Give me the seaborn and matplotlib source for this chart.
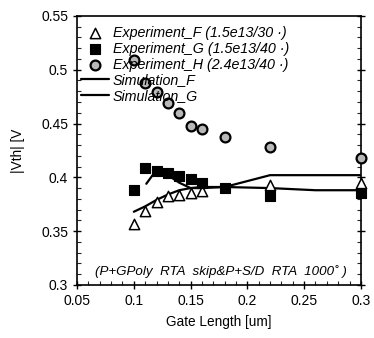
import numpy as np
import pandas as pd
import matplotlib
matplotlib.use("Agg")
import matplotlib.pyplot as plt
import seaborn as sns
from matplotlib.ticker import MultipleLocator

# ==========================================
# DATA
# ==========================================

exp_f_x = [0.10, 0.11, 0.12, 0.13, 0.14, 0.15, 0.16, 0.22, 0.30]
exp_f_y = [0.357, 0.369, 0.377, 0.383, 0.384, 0.385, 0.387, 0.393, 0.395]

exp_g_x = [0.10, 0.11, 0.12, 0.13, 0.14, 0.15, 0.16, 0.18, 0.22, 0.30]
exp_g_y = [0.388, 0.409, 0.406, 0.404, 0.401, 0.398, 0.395, 0.390, 0.383, 0.385]

exp_h_x = [0.10, 0.11, 0.12, 0.13, 0.14, 0.15, 0.16, 0.18, 0.22, 0.30]
exp_h_y = [0.509, 0.488, 0.479, 0.469, 0.460, 0.448, 0.445, 0.437, 0.428, 0.418]

sim_f_x = [0.10, 0.11, 0.12, 0.13, 0.14, 0.15, 0.16, 0.18, 0.22, 0.30]
sim_f_y = [0.368, 0.373, 0.379, 0.384, 0.388, 0.390, 0.391, 0.391, 0.402, 0.402]

sim_g_x = [0.111, 0.12, 0.13, 0.14, 0.15, 0.16, 0.18, 0.22, 0.26, 0.30]
sim_g_y = [0.394, 0.407, 0.402, 0.395, 0.390, 0.390, 0.391, 0.390, 0.388, 0.388]

labels = [
    "Experiment_F (1.5e13/30 \u00b7)",
    "Experiment_G (1.5e13/40 \u00b7)",
    "Experiment_H (2.4e13/40 \u00b7)",
    "Simulation_F",
    "Simulation_G",
]

# ==========================================
# STYLE
# ==========================================

sns.set_style("ticks")
plt.rcParams["font.family"] = ["Liberation Sans", "DejaVu Sans"]
plt.rcParams["text.color"] = "black"
plt.rcParams["axes.labelcolor"] = "black"

fig = plt.figure(figsize=(3.74, 3.38), dpi=100)
ax = fig.add_axes([0.206, 0.157, 0.759, 0.796])

# ==========================================
# PLOT
# ==========================================

sns.scatterplot(x=exp_f_x, y=exp_f_y, ax=ax, marker="^", s=55,
                facecolor="white", edgecolor="black", linewidth=1.1,
                label=labels[0], zorder=4, clip_on=False)
sns.scatterplot(x=exp_g_x, y=exp_g_y, ax=ax, marker="s", s=50,
                color="black", edgecolor="black", linewidth=0.8,
                label=labels[1], zorder=4, clip_on=False)
sns.scatterplot(x=exp_h_x, y=exp_h_y, ax=ax, marker="o", s=50,
                facecolor="#b8b8b8", edgecolor="black", linewidth=1.6,
                label=labels[2], zorder=4, clip_on=False)
sns.lineplot(x=sim_f_x, y=sim_f_y, ax=ax, color="black", linewidth=1.6,
             label=labels[3], zorder=3)
sns.lineplot(x=sim_g_x, y=sim_g_y, ax=ax, color="black", linewidth=1.6,
             label=labels[4], zorder=3)

# ==========================================
# AXES
# ==========================================

ax.set_xlim(0.05, 0.3)
ax.set_ylim(0.3, 0.55)
ax.xaxis.set_major_locator(MultipleLocator(0.05))
ax.yaxis.set_major_locator(MultipleLocator(0.05))
ax.xaxis.set_minor_locator(MultipleLocator(0.01))
ax.yaxis.set_minor_locator(MultipleLocator(0.01))
ax.xaxis.set_major_formatter(plt.FuncFormatter(lambda v, p: f"{v:g}"))
ax.yaxis.set_major_formatter(plt.FuncFormatter(lambda v, p: f"{v:g}"))
ax.tick_params(which="major", direction="inout", length=6, width=1,
               labelsize=10, right=True, top=False, colors="black")
ax.tick_params(which="minor", direction="in", length=3, width=0.8,
               right=True, top=False)
for sp in ax.spines.values():
    sp.set_visible(True)
    sp.set_linewidth(1.2)
    sp.set_color("black")

ax.set_xlabel("Gate Length [um]", fontsize=9.8, labelpad=5)
ax.set_ylabel("|Vth| [V", fontsize=9.8)
ax.yaxis.set_label_coords(-0.185, 0.5)

ax.text(0.177, 0.312, "(P+GPoly  RTA  skip&P+S/D  RTA  1000\u02da )",
        ha="center", va="center", fontsize=9.6, style="italic")

leg = ax.legend(loc="upper left", frameon=False,
                prop={"style": "italic", "size": 10.3},
                handlelength=2.0, handletextpad=0.25, labelspacing=0.12,
                bbox_to_anchor=(0.0, 0.975), borderaxespad=0.0,
                borderpad=0.25)

fig.savefig("out.png", dpi=100)
